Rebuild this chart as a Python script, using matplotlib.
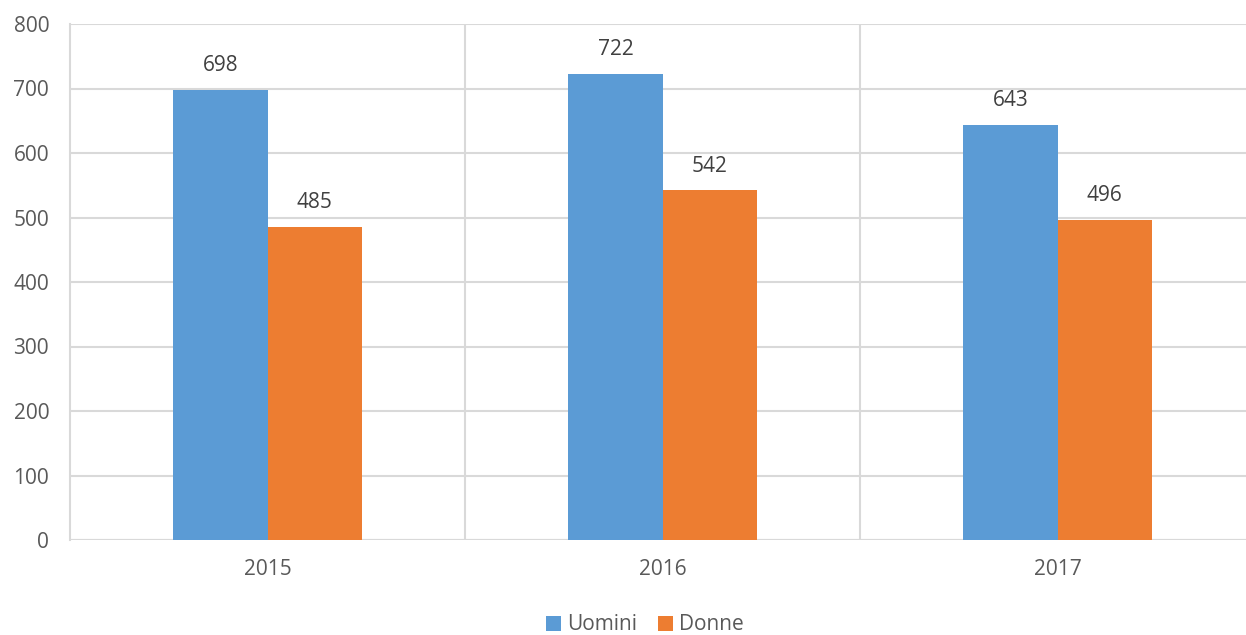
import matplotlib
matplotlib.use("Agg")
import matplotlib.pyplot as plt
import numpy as np

years = ["2015", "2016", "2017"]
uomini = [698, 722, 643]
donne = [485, 542, 496]
series_names = ["Uomini", "Donne"]
colors = ["#5B9BD5", "#ED7D31"]

plt.rcParams['font.family'] = ['Open Sans', 'DejaVu Sans']
W, H = 1246, 635
fig = plt.figure(figsize=(W/100, H/100), dpi=100)
ax = fig.add_axes([70/W, 1-540/H, (1255-70)/W, (540-24)/H])

x = np.arange(len(years))
bw = 0.238
b1 = ax.bar(x - bw/2, uomini, bw, color=colors[0], label=series_names[0], zorder=3)
b2 = ax.bar(x + bw/2, donne, bw, color=colors[1], label=series_names[1], zorder=3)

for bars in (b1, b2):
    for r in bars:
        ax.annotate(f"{int(r.get_height())}", (r.get_x()+r.get_width()/2, r.get_height()),
                    xytext=(0, 10), textcoords="offset points", ha="center", va="bottom",
                    fontsize=15, color="#404040")

ax.set_xlim(-0.5, 2.5)
ax.set_ylim(0, 800)
ax.set_yticks(np.arange(0, 801, 100))
ax.set_xticks(x)
ax.set_xticklabels(years)
ax.set_xticks([0.5, 1.5], minor=True)
ax.grid(axis='y', color="#D9D9D9", linewidth=1.5, zorder=0)
ax.grid(axis='x', which='minor', color="#D9D9D9", linewidth=1.5, zorder=0)
ax.grid(axis='x', which='major', visible=False)
for s in ["top", "right", "bottom"]:
    ax.spines[s].set_visible(False)
ax.spines["left"].set_color("#D9D9D9")
ax.spines["left"].set_linewidth(1.5)
ax.axhline(0, color="#D9D9D9", linewidth=1.5, zorder=2)
ax.tick_params(axis='both', which='both', length=0, labelsize=15, colors="#595959")
ax.tick_params(axis='y', pad=15)
ax.tick_params(axis='x', pad=14)

leg = fig.legend(handles=[b1, b2], labels=series_names, loc="center", bbox_to_anchor=(645/W, 1-625/H),
                 ncol=2, frameon=False, fontsize=15, handlelength=0.7, handleheight=0.7,
                 handletextpad=0.3, columnspacing=1.0)
for t in leg.get_texts():
    t.set_color("#595959")

fig.savefig("out.png", dpi=100)
